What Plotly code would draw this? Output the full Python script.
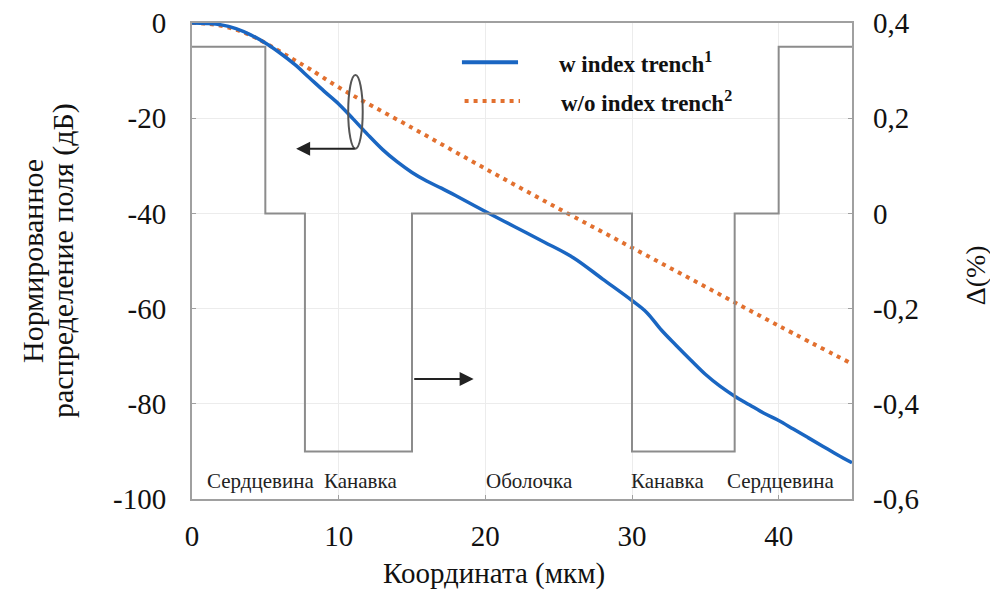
import plotly.graph_objects as go

# ---------------- data ----------------
coord_w = [0, 1, 2, 3, 4, 5, 6, 7, 8, 9, 10, 11, 12, 13, 14, 15, 16, 17, 18, 20,
           22, 24, 26, 28, 30, 31, 32, 33, 34, 35, 36, 37, 38, 39, 40, 41, 42, 43, 44, 45]
field_w = [0, -0.1, -0.4, -1.2, -2.5, -4.2, -6.3, -8.7, -11.5, -14.3, -17.0, -20.2,
           -23.5, -26.6, -29.2, -31.4, -33.2, -34.7, -36.3, -39.6, -42.8, -46.0, -49.3,
           -53.8, -58.3, -60.8, -64.5, -67.7, -70.8, -73.8, -76.3, -78.4, -80.2, -82.0,
           -83.5, -85.3, -87.1, -88.9, -90.7, -92.4]

coord_wo = [0, 1, 2, 3, 4, 5, 6, 7, 8, 10, 15, 20, 25, 30, 35, 40, 45]
field_wo = [0, -0.15, -0.6, -1.4, -2.6, -4.2, -6.0, -7.8, -9.6, -13.5, -22.0,
            -30.6, -39.0, -47.2, -55.4, -63.6, -71.6]

profile_x = [0, 5, 5, 7.7, 7.7, 15, 15, 30, 30, 37, 37, 40, 40, 45]
profile_delta = [0.35, 0.35, 0, 0, -0.5, -0.5, 0, 0, -0.5, -0.5, 0, 0, 0.35, 0.35]

x_ticks = [0, 10, 20, 30, 40]
y_ticks = [0, -20, -40, -60, -80, -100]
y_ticktext = ["0", "-20", "-40", "-60", "-80", "-100"]
y2_ticks = [0.4, 0.2, 0, -0.2, -0.4, -0.6]
y2_ticktext = ["0,4", "0,2", "0", "-0,2", "-0,4", "-0,6"]

region_labels = ["Сердцевина", "Канавка", "Оболочка", "Канавка", "Сердцевина"]
region_x = [4.64, 11.5, 23.0, 32.4, 40.1]
region_y = -96.2

legend_names = ["w index trench<sup>1</sup>", "w/o index trench<sup>2</sup>"]

# ---------------- style ----------------
SERIF = "Liberation Serif, Times New Roman, serif"
BLUE = "#1a66c2"
ORANGE = "#e2702f"
GRAY = "#8c8c8c"
BOX = "#a0a0a0"
GRID = "#ececec"
TXT = "#111"

fig = go.Figure()

fig.add_trace(go.Scatter(x=profile_x, y=profile_delta, yaxis="y2", mode="lines",
                         line=dict(color=GRAY, width=2), showlegend=False,
                         hoverinfo="skip"))
fig.add_trace(go.Scatter(x=coord_wo, y=field_wo, mode="lines",
                         line=dict(color=ORANGE, width=4, dash="4px,5px", shape="spline"),
                         showlegend=False))
fig.add_trace(go.Scatter(x=coord_w, y=field_w, mode="lines",
                         line=dict(color=BLUE, width=3.5, shape="spline"),
                         showlegend=False))

tickfont = dict(family=SERIF, size=29, color=TXT)
fig.update_layout(
    width=990, height=590,
    margin=dict(l=192, r=138, t=23, b=91, autoexpand=False),
    paper_bgcolor="white", plot_bgcolor="white",
    font=dict(family=SERIF, color=TXT),
    xaxis=dict(range=[0, 45], tickvals=x_ticks, showgrid=True, gridcolor=GRID,
               zeroline=False, showline=True, linecolor=BOX, linewidth=2, mirror=True,
               ticks="inside", ticklen=4, tickcolor=BOX, tickfont=tickfont,
               ticklabelstandoff=10, automargin=False),
    yaxis=dict(range=[-100, 0], tickvals=y_ticks, ticktext=y_ticktext, showgrid=True,
               gridcolor=GRID, zeroline=False, showline=True, linecolor=BOX,
               linewidth=2, mirror=True, ticks="inside", ticklen=4, tickcolor=BOX,
               tickfont=tickfont, ticklabelstandoff=18, automargin=False),
    yaxis2=dict(range=[-0.6, 0.4], tickvals=y2_ticks, ticktext=y2_ticktext,
                overlaying="y", side="right", showgrid=False, zeroline=False,
                showline=False, ticks="inside", ticklen=4, tickcolor=BOX,
                tickfont=tickfont, ticklabelstandoff=20, automargin=False),
    showlegend=False,
)

# region labels
for lab, xv in zip(region_labels, region_x):
    fig.add_annotation(x=xv, y=region_y, xref="x", yref="y", text=lab, showarrow=False,
                       font=dict(family=SERIF, size=21, color="#222"))

# ellipse + arrows
fig.add_shape(type="circle", xref="x", yref="y", x0=10.65, x1=11.64, y0=-26.4, y1=-10.9,
              line=dict(color="#555", width=2))
fig.add_annotation(x=7.1, y=-26.4, ax=11.2, ay=-26.4, xref="x", yref="y", axref="x",
                   ayref="y", showarrow=True, arrowhead=2, arrowsize=1.4, arrowwidth=2,
                   arrowcolor="#222", text="")
fig.add_annotation(x=19.2, y=-74.8, ax=15.05, ay=-74.8, xref="x", yref="y", axref="x",
                   ayref="y", showarrow=True, arrowhead=2, arrowsize=1.4, arrowwidth=2,
                   arrowcolor="#222", text="")

# custom legend
fig.add_shape(type="line", xref="paper", yref="paper", x0=0.409, x1=0.494, y0=0.9174,
              y1=0.9174, line=dict(color=BLUE, width=4))
fig.add_shape(type="line", xref="paper", yref="paper", x0=0.413, x1=0.497, y0=0.836,
              y1=0.836, line=dict(color=ORANGE, width=4, dash="4px,5px"))
fig.add_annotation(x=0.5526, y=0.9174, xref="paper", yref="paper", xanchor="left",
                   yanchor="middle", text="<b>" + legend_names[0] + "</b>", showarrow=False,
                   font=dict(family=SERIF, size=23, color=TXT))
fig.add_annotation(x=0.5565, y=0.836, xref="paper", yref="paper", xanchor="left",
                   yanchor="middle", text="<b>" + legend_names[1] + "</b>", showarrow=False,
                   font=dict(family=SERIF, size=23, color=TXT))

# axis titles
fig.add_annotation(x=0, y=0.5, xref="paper", yref="paper", xshift=-160,
                   text="Нормированное", textangle=-90,
                   showarrow=False, xanchor="center", yanchor="middle",
                   font=dict(family=SERIF, size=30, color=TXT))
fig.add_annotation(x=0, y=0.5, xref="paper", yref="paper", xshift=-129,
                   text="распределение поля (дБ)", textangle=-90,
                   showarrow=False, xanchor="center", yanchor="middle",
                   font=dict(family=SERIF, size=30, color=TXT))
fig.add_annotation(x=1, y=0.47, xref="paper", yref="paper", xshift=123,
                   text="Δ(%)", textangle=-90, showarrow=False,
                   xanchor="center", yanchor="middle",
                   font=dict(family=SERIF, size=28, color=TXT))
fig.add_annotation(x=0.4576, y=0, xref="paper", yref="paper", yshift=-74,
                   text="Координата (мкм)", showarrow=False, xanchor="center",
                   yanchor="middle", font=dict(family=SERIF, size=29, color=TXT))

fig.write_html("out.html",
               config={"displayModeBar": False},
               post_script="document.body.style.margin='0px';"
                           "document.body.style.overflow='hidden';")
